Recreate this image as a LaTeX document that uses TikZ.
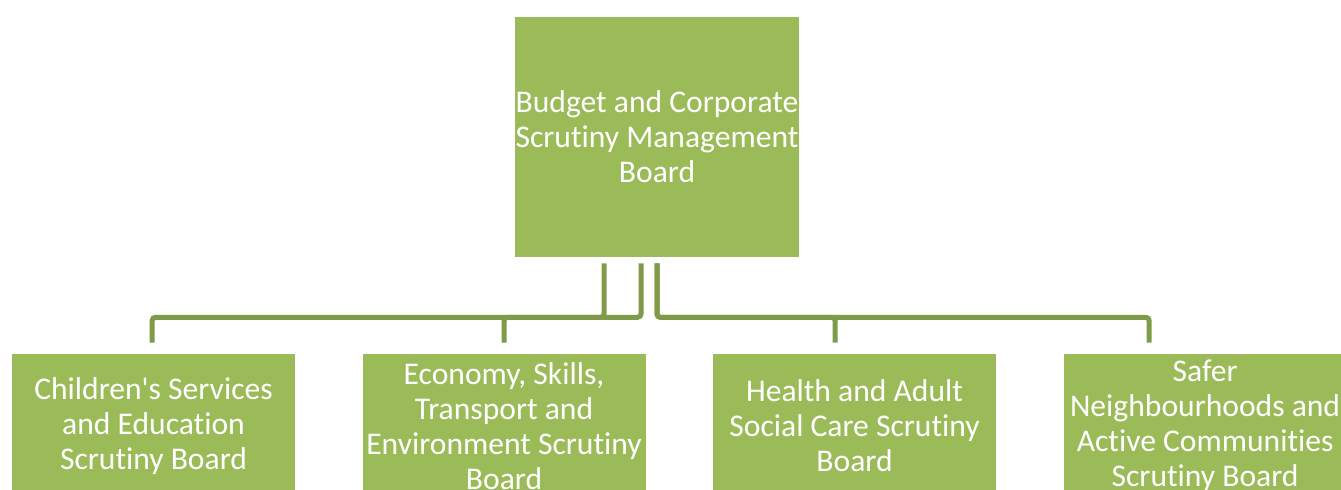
\documentclass[tikz,border=0pt]{standalone}
\usepackage{fontspec}
\setmainfont{Carlito}[Ligatures={TeXOff,NoCommon}]
\usetikzlibrary{positioning}
\definecolor{boxgreen}{HTML}{9BBB59}
\definecolor{linkgreen}{HTML}{7F9A48}
\tikzset{line/.style={draw=linkgreen, line width=3.75pt, rounded corners=2.5pt}}

\begin{document}
\begin{tikzpicture}[x=0.75pt,y=-0.75pt]
\tikzstyle{block} = [rectangle, fill=boxgreen, text=white, align=center, inner sep=0pt, font=\fontsize{23.7}{26.25}\selectfont]
\tikzstyle{head} = [block, minimum width=213pt, minimum height=180pt]
\tikzstyle{leaf} = [block, minimum width=212.25pt, minimum height=108pt]
\useasboundingbox (0,0) rectangle (1341,489);
\clip (0,0) rectangle (1341,489);

% blocks
    \node [head] (budget) at (657,137) {Budget and Corporate\\Scrutiny Management\\Board};
    \node [leaf] (children) at (153.5,426) {Children's Services\\and Education\\Scrutiny Board};
    \node [leaf, right=50.25pt of children] (economy) {Economy, Skills,\\Transport and\\Environment Scrutiny\\Board};
    \node [leaf, right=50.25pt of economy] (health) {Health and Adult\\Social Care Scrutiny\\Board};
    \node [leaf, right=50.25pt of health] (safer) {Safer\\Neighbourhoods and\\Active Communities\\Scrutiny Board};
% connectors
    \path [line] ([xshift=-12pt, yshift=-4.5pt]budget.south) -- ++(0,54) -| ([xshift=-1pt, yshift=8.25pt]children.north);
    \path [line] ([xshift=-39.75pt, yshift=-4.5pt]budget.south) -- ++(0,54) -| ([yshift=8.25pt]economy.north);
    \path [line] ([yshift=-4.5pt]budget.south) -- ++(0,54) -| ([xshift=-14.6pt, yshift=8.25pt]health.north);
    \path [line] ([yshift=-4.5pt]budget.south) -- ++(0,54) -| ([xshift=-42pt, yshift=8.25pt]safer.north);

\end{tikzpicture}
\end{document}
